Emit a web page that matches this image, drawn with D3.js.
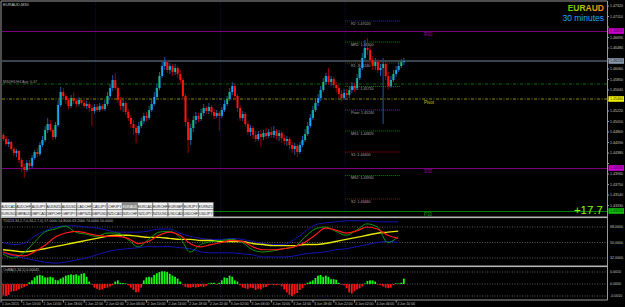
<!DOCTYPE html>
<html>
<head>
<meta charset="utf-8">
<script src="https://cdn.jsdelivr.net/npm/d3@7"></script>
<style>
body { margin: 0; background: #000; overflow: hidden; }
svg { display: block; }
text { font-family: "Liberation Sans", Arial, sans-serif; }
</style>
</head>
<body>
<div id="chart"></div>
<script>
var width = 625;
var height = 307;

// EURAUD M30, one bar every 30 minutes from 1 Jun 06:00
var opens = [
  1.4474,1.4466,1.4456,1.4460,1.4446,1.4438,1.4442,1.4424,1.4410,1.4404,
  1.4418,1.4412,1.4428,1.4440,1.4436,1.4454,1.4464,1.4484,1.4496,1.4484,
  1.4470,1.4494,1.4534,1.4560,1.4552,1.4544,1.4532,1.4548,1.4542,1.4536,
  1.4544,1.4538,1.4532,1.4536,1.4528,1.4522,1.4530,1.4524,1.4532,1.4526,
  1.4536,1.4552,1.4568,1.4584,1.4568,1.4544,1.4532,1.4538,1.4520,1.4508,
  1.4496,1.4488,1.4478,1.4492,1.4502,1.4512,1.4508,1.4524,1.4536,1.4550,
  1.4568,1.4592,1.4612,1.4620,1.4604,1.4612,1.4600,1.4608,1.4596,1.4584,
  1.4552,1.4500,1.4464,1.4488,1.4504,1.4512,1.4506,1.4518,1.4528,1.4522,
  1.4530,1.4520,1.4512,1.4518,1.4512,1.4524,1.4536,1.4546,1.4560,1.4572,
  1.4552,1.4528,1.4508,1.4516,1.4496,1.4480,1.4488,1.4474,1.4466,1.4476,
  1.4470,1.4478,1.4472,1.4480,1.4474,1.4482,1.4472,1.4478,1.4468,1.4462,
  1.4466,1.4454,1.4446,1.4452,1.4440,1.4454,1.4464,1.4476,1.4492,1.4508,
  1.4524,1.4538,1.4548,1.4564,1.4580,1.4592,1.4580,1.4586,1.4574,1.4568,
  1.4556,1.4548,1.4558,1.4554,1.4564,1.4572,1.4568,1.4588,1.4608,1.4628,
  1.4648,1.4644,1.4624,1.4612,1.4620,1.4604,1.4608,1.4616,1.4592,1.4572,
  1.4584,1.4596,1.4604,1.4612,1.4620
];
var highs = [
  1.4478,1.4472,1.4466,1.4462,1.4450,1.4446,1.4444,1.4428,1.4416,1.4424,
  1.4424,1.4434,1.4444,1.4448,1.4460,1.4472,1.4492,1.4508,1.4504,1.4488,
  1.4500,1.4544,1.4570,1.4568,1.4556,1.4548,1.4554,1.4560,1.4546,1.4550,
  1.4548,1.4544,1.4542,1.4540,1.4534,1.4536,1.4536,1.4538,1.4536,1.4544,
  1.4560,1.4576,1.4594,1.4598,1.4572,1.4550,1.4544,1.4542,1.4526,1.4514,
  1.4504,1.4494,1.4500,1.4508,1.4518,1.4520,1.4532,1.4546,1.4560,1.4576,
  1.4600,1.4620,1.4630,1.4624,1.4618,1.4616,1.4616,1.4612,1.4604,1.4588,
  1.4556,1.4508,1.4496,1.4512,1.4520,1.4518,1.4526,1.4536,1.4532,1.4538,
  1.4534,1.4526,1.4524,1.4522,1.4530,1.4544,1.4552,1.4568,1.4580,1.4576,
  1.4556,1.4534,1.4522,1.4520,1.4502,1.4494,1.4492,1.4482,1.4482,1.4484,
  1.4484,1.4488,1.4486,1.4490,1.4492,1.4486,1.4484,1.4482,1.4474,1.4472,
  1.4470,1.4460,1.4458,1.4456,1.4460,1.4472,1.4486,1.4500,1.4516,1.4532,
  1.4548,1.4556,1.4572,1.4588,1.4598,1.4608,1.4592,1.4590,1.4580,1.4574,
  1.4564,1.4566,1.4566,1.4570,1.4580,1.4578,1.4596,1.4616,1.4638,1.4664,
  1.4668,1.4652,1.4632,1.4628,1.4626,1.4616,1.4628,1.4620,1.4600,1.4592,
  1.4604,1.4612,1.4620,1.4626,1.4628
];
var lows = [
  1.4462,1.4452,1.4450,1.4442,1.4432,1.4430,1.4418,1.4400,1.4388,1.4400,
  1.4404,1.4408,1.4424,1.4430,1.4432,1.4450,1.4460,1.4478,1.4480,1.4464,
  1.4466,1.4490,1.4530,1.4546,1.4536,1.4526,1.4528,1.4536,1.4530,1.4532,
  1.4534,1.4528,1.4526,1.4520,1.4492,1.4516,1.4520,1.4520,1.4522,1.4522,
  1.4532,1.4548,1.4562,1.4564,1.4538,1.4524,1.4520,1.4514,1.4502,1.4488,
  1.4474,1.4458,1.4474,1.4488,1.4496,1.4502,1.4504,1.4520,1.4532,1.4546,
  1.4564,1.4588,1.4604,1.4598,1.4596,1.4592,1.4594,1.4588,1.4576,1.4544,
  1.4492,1.4438,1.4454,1.4480,1.4496,1.4500,1.4502,1.4512,1.4516,1.4516,
  1.4514,1.4506,1.4508,1.4482,1.4508,1.4520,1.4532,1.4542,1.4554,1.4546,
  1.4520,1.4502,1.4502,1.4490,1.4474,1.4472,1.4466,1.4460,1.4462,1.4450,
  1.4464,1.4466,1.4468,1.4468,1.4468,1.4464,1.4462,1.4458,1.4454,1.4452,
  1.4446,1.4438,1.4434,1.4430,1.4436,1.4450,1.4460,1.4472,1.4488,1.4504,
  1.4520,1.4532,1.4542,1.4560,1.4574,1.4574,1.4572,1.4568,1.4560,1.4548,
  1.4542,1.4544,1.4548,1.4548,1.4558,1.4560,1.4564,1.4584,1.4604,1.4624,
  1.4634,1.4618,1.4604,1.4604,1.4598,1.4592,1.4496,1.4584,1.4564,1.4568,
  1.4580,1.4590,1.4600,1.4608,1.4614
];
var closes = [
  1.4466,1.4456,1.4460,1.4446,1.4438,1.4442,1.4424,1.4410,1.4404,1.4418,
  1.4412,1.4428,1.4440,1.4436,1.4454,1.4464,1.4484,1.4496,1.4484,1.4470,
  1.4494,1.4534,1.4560,1.4552,1.4544,1.4532,1.4548,1.4542,1.4536,1.4544,
  1.4538,1.4532,1.4536,1.4528,1.4522,1.4530,1.4524,1.4532,1.4526,1.4536,
  1.4552,1.4568,1.4584,1.4568,1.4544,1.4532,1.4538,1.4520,1.4508,1.4496,
  1.4488,1.4478,1.4492,1.4502,1.4512,1.4508,1.4524,1.4536,1.4550,1.4568,
  1.4592,1.4612,1.4620,1.4604,1.4612,1.4600,1.4608,1.4596,1.4584,1.4552,
  1.4500,1.4464,1.4488,1.4504,1.4512,1.4506,1.4518,1.4528,1.4522,1.4530,
  1.4520,1.4512,1.4518,1.4512,1.4524,1.4536,1.4546,1.4560,1.4572,1.4552,
  1.4528,1.4508,1.4516,1.4496,1.4480,1.4488,1.4474,1.4466,1.4476,1.4470,
  1.4478,1.4472,1.4480,1.4474,1.4482,1.4472,1.4478,1.4468,1.4462,1.4466,
  1.4454,1.4446,1.4452,1.4440,1.4454,1.4464,1.4476,1.4492,1.4508,1.4524,
  1.4538,1.4548,1.4564,1.4580,1.4592,1.4580,1.4586,1.4574,1.4568,1.4556,
  1.4548,1.4558,1.4554,1.4564,1.4572,1.4568,1.4588,1.4608,1.4628,1.4648,
  1.4644,1.4624,1.4612,1.4620,1.4604,1.4608,1.4616,1.4592,1.4572,1.4584,
  1.4596,1.4604,1.4612,1.4620,1.4622
];

// oscillator histogram, one value per bar
var oscValues = [
  -0.00095,-0.0010,-0.0009,-0.00065,-0.0006,-0.00055,-0.00045,-0.00035,-0.00025,-0.00015,
  0.00015,0.0003,0.00055,0.0007,0.00075,0.0007,0.00055,0.00055,0.0006,0.00055,
  0.00035,0.0003,0.00045,0.00055,0.0007,0.00075,0.0008,0.00075,0.0008,0.0007,
  0.00085,0.0009,0.0006,0.0002,-0.00005,-0.0003,-0.0004,-0.0005,-0.00045,-0.00035,
  -0.0003,-0.0002,-0.0001,0.0002,0.0003,0.0001,0.00008,0.00005,-0.0001,-0.0003,
  -0.0005,-0.0007,-0.00065,-0.0003,0.0003,0.00055,0.0006,0.00055,0.00075,0.0009,
  0.0010,0.00105,0.00105,0.0010,0.00085,0.0007,0.0006,0.00045,0.0002,-0.00005,
  -0.00025,-0.0003,-0.0003,-0.00025,-0.0003,-0.00025,-0.0002,-0.00025,-0.00015,0.00005,
  0.0001,0.0001,-0.00005,0.0001,0.0003,0.00055,0.0005,0.0007,0.0006,0.0003,
  0.0002,-0.0001,-0.0003,-0.00035,-0.0004,-0.0003,-0.00035,-0.0005,-0.0004,-0.00045,
  -0.0003,-0.00025,-0.0001,-0.00005,-0.0001,-0.0001,-0.00005,-0.0002,-0.00045,-0.0007,
  -0.0009,-0.0010,-0.00085,-0.00075,-0.0005,-0.00035,-0.0001,0.0001,0.0002,0.0003,
  0.0005,0.0007,0.00075,0.0006,0.0007,0.0006,0.0004,0.0004,0.00035,0.0001,
  -0.00005,-0.0001,-0.00035,-0.0007,-0.0008,-0.0006,-0.00045,-0.00035,-0.0002,0.00005,
  0.00025,0.0003,0.0003,0.0002,-0.00005,-0.0001,-0.0002,-0.0003,-0.00035,-0.0003,
  -0.0001,0.00005,0.00005,0.0001,0.00045
];

// TDI lines, one value every 4 bars
var tdiStep = 4;
var tdiRsi = [36.8,32,38,50,62,65.6,69,62,59.6,57,61,61,53.6,45,53.6,62,63,56,39,47.6,51,52.4,53.6,50,41.6,39,40.4,42.8,45,56,65.6,68,63,58.4,64.4,71.6,68,50,57];
var tdiSignal = [39,35.6,34.4,39,46.4,56,61,63,61,58.4,57,57,54.8,48.8,51.4,58.4,62,58.4,48.8,45,47.6,50,52.4,51.4,45,41.6,41.6,42.8,45,50,58.4,66.8,64.4,61,63.4,68,65.6,58.4,54.8];
var tdiBase = [41.6,40.4,39.2,40.4,42.8,45.2,47.6,50,52.4,54.8,57.2,58.4,58.4,57.2,56,56,54.8,53.6,53.6,52.4,52.4,51.2,51.2,51.2,48.8,47.6,46.4,46.4,46.4,47.6,47.6,48.8,51.2,53.6,56,58.4,60.8,62,63.2];
var tdiUpper = [50,47.6,48.8,57.2,63.2,68,69.2,69.2,68,66.8,64.4,62,62,62,63.2,65.6,65.6,60.8,57.2,54.8,53.6,53.6,54.8,53.6,51.2,48.8,47.6,47.6,53.6,62,70.4,72.8,74,75.2,75.2,75.2,74,74,74];
var tdiLower = [38,34.4,32,29.6,27.2,26,27.2,29.6,32,35.6,39.2,41.6,42.8,44,45.2,45.2,45.2,44,42.8,39.2,38,38,38,36.8,35.6,33.2,33.2,33.2,34.4,36.8,38,39.2,41.6,42.8,45.2,47.6,50,51.2,50];
var tdiLevels = [68, 50, 32];

// today's pivots (4 Jun), drawn from the 4 Jun 00:00 bar
var pivotNames = ["R2", "MR2", "R1", "MR1", "Pivot", "MS1", "S1", "MS2", "S2"];
var pivotValues = [1.4702, 1.4660, 1.4618, 1.4571, 1.4524, 1.4482, 1.4440, 1.4393, 1.4346];
var pivotStartBar = 132;

// long horizontal levels
var levelNames = ["R30", "S30", "P30"];
var levelPrices = [1.4682, 1.4408, 1.4322];
var bidPrice = 1.4622;
var avgPrice = 1.4576;
var avgText = "M30/H1/H4 Avg: 0.47";
var weekPivotPrice = 1.4546;
var profitText = "+17.7";

var priceTicks = [1.4732,1.4711,1.4690,1.4669,1.4648,1.4627,1.4606,1.4585,1.4564,1.4543,
  1.4522,1.4501,1.4480,1.4459,1.4438,1.4417,1.4396,1.4375,1.4354,1.4333];
var oscTicks = [0.0010, 0.0000, -0.0010];

var daySeparators = [36, 84, 132];
var timeLabels = ["1 Jun 2015","1 Jun 10:00","1 Jun 14:00","1 Jun 18:00","1 Jun 22:00",
  "2 Jun 02:00","2 Jun 06:00","2 Jun 10:00","2 Jun 14:00","2 Jun 18:00","2 Jun 22:00",
  "3 Jun 02:00","3 Jun 06:00","3 Jun 10:00","3 Jun 14:00","3 Jun 18:00","3 Jun 22:00",
  "4 Jun 02:00","4 Jun 06:00","4 Jun 10:00"];
var timeLabelStep = 8;

var buttonRow1 = ["AUDCAD","AUDCHF","AUDJPY","AUDNZD","AUDUSD","CADCHF","CADJPY","CHFJPY","EURAUD","EURCAD","EURCHF","EURGBP","EURJPY","EURNZD"];
var buttonRow2 = ["EURUSD","GBPAUD","GBPCAD","GBPCHF","GBPJPY","GBPNZD","GBPUSD","NZDCAD","NZDCHF","NZDJPY","NZDUSD","USDCAD","USDCHF","USDJPY"];
var activeSymbol = "EURAUD";

var svg = d3.select('#chart').append('svg')
  .attr('width', width).attr('height', height);

svg.append('rect').attr('width', width).attr('height', height).attr('fill', '#000');

var axisX = 607.5;
var x = d3.scaleLinear().domain([0, 154]).range([3, 403.4]);
var y = d3.scaleLinear().domain([1.4310, 1.4740]).range([217, 2]);
var yTdi = d3.scaleLinear().domain([32, 68]).range([258, 227]);
var yOsc = d3.scaleLinear().domain([-0.001, 0.001]).range([296, 272]);

// day separators
daySeparators.forEach(function(b) {
  svg.append('line')
    .attr('x1', x(b) - 1).attr('x2', x(b) - 1)
    .attr('y1', 2).attr('y2', 300)
    .attr('stroke', '#111140').attr('stroke-width', 1)
    .attr('stroke-dasharray', '1,1');
});

// long levels
var levelColors = ["#800080", "#800080", "#008000"];
levelPrices.forEach(function(p, i) {
  svg.append('line')
    .attr('x1', 2).attr('x2', axisX)
    .attr('y1', Math.round(y(p)) + 0.5).attr('y2', Math.round(y(p)) + 0.5)
    .attr('stroke', levelColors[i]).attr('stroke-width', 1);
  svg.append('text')
    .attr('x', 424).attr('y', y(p) + 4.5)
    .attr('font-size', 4.5).attr('fill', i < 2 ? '#a000a0' : '#00a000')
    .text(levelNames[i]);
});

svg.append('line')
  .attr('x1', 2).attr('x2', axisX)
  .attr('y1', y(avgPrice)).attr('y2', y(avgPrice))
  .attr('stroke', '#0a6a0a').attr('stroke-dasharray', '3,1.5,1,1.5');
svg.append('text')
  .attr('x', 3).attr('y', y(avgPrice) - 1)
  .attr('font-size', 3.6).attr('fill', '#9a9a9a')
  .text(avgText);

svg.append('line')
  .attr('x1', 2).attr('x2', axisX)
  .attr('y1', y(weekPivotPrice)).attr('y2', y(weekPivotPrice))
  .attr('stroke', '#8c8c00').attr('stroke-dasharray', '3,1.5,1,1.5');
svg.append('text')
  .attr('x', 424).attr('y', y(weekPivotPrice) + 4.5)
  .attr('font-size', 4.5).attr('fill', '#c8c800')
  .text('Pivot');

svg.append('line')
  .attr('x1', 2).attr('x2', axisX)
  .attr('y1', y(bidPrice)).attr('y2', y(bidPrice))
  .attr('stroke', '#778899').attr('stroke-width', 1);

// today's pivot lines
var pivotColors = {R2: '#2a2ab0', R1: '#b00000', S1: '#b00000', S2: '#b00000', Pivot: '#c000c0'};
pivotValues.forEach(function(p, i) {
  var name = pivotNames[i];
  svg.append('line')
    .attr('x1', x(pivotStartBar) - 1).attr('x2', 400)
    .attr('y1', y(p)).attr('y2', y(p))
    .attr('stroke', pivotColors[name] || '#0a7a0a')
    .attr('stroke-dasharray', '1,1');
  svg.append('text')
    .attr('x', 351).attr('y', y(p) + 3.8)
    .attr('font-size', 3.6).attr('fill', '#a8a8a8')
    .text(name + ': ' + p.toFixed(5));
});

// candles
var bars = svg.append('g');
closes.forEach(function(c, i) {
  var o = opens[i];
  var up = c >= o;
  var cx = x(i);
  bars.append('line')
    .attr('x1', cx + 0.5).attr('x2', cx + 0.5)
    .attr('y1', y(highs[i])).attr('y2', y(lows[i]))
    .attr('stroke', up ? '#1f56a8' : '#9a0000').attr('stroke-width', 1);
  var top = y(Math.max(o, c));
  var h = Math.max(1, Math.abs(y(o) - y(c)));
  bars.append('rect')
    .attr('x', cx - 0.5).attr('y', top)
    .attr('width', 2).attr('height', h)
    .attr('fill', up ? '#1ea6ff' : '#ff1414');
  if (up) {
    bars.append('line')
      .attr('x1', cx - 0.3).attr('x2', cx - 0.3)
      .attr('y1', top).attr('y2', top + h)
      .attr('stroke', '#0c9a20').attr('stroke-width', 0.7);
  }
});

// symbol buttons
function drawButtons(names, y0) {
  var bw = 15.2;
  names.forEach(function(n, i) {
    var active = n === activeSymbol;
    svg.append('rect')
      .attr('x', 1 + i * bw).attr('y', y0)
      .attr('width', bw - 0.6).attr('height', 7)
      .attr('fill', active ? '#8c8c8c' : '#f2f2f2')
      .attr('stroke', '#a0a0a0').attr('stroke-width', 0.5);
    svg.append('text')
      .attr('x', 1 + i * bw + (bw - 0.6) / 2).attr('y', y0 + 5)
      .attr('text-anchor', 'middle')
      .attr('font-size', 3.5).attr('fill', active ? '#ffffff' : '#202020')
      .text(n);
  });
}
drawButtons(buttonRow1, 202.5);
drawButtons(buttonRow2, 210);

// titles
svg.append('text').attr('x', 3).attr('y', 6)
  .attr('font-size', 4).attr('fill', '#c8c8c8').text('EURAUD,M30');

var titleColors = ['#6ccc00', '#88cc00', '#a8c800', '#d8b000', '#f09a00', '#ff8c00'];
var title = svg.append('text').attr('x', 604).attr('y', 10.5)
  .attr('text-anchor', 'end').attr('font-size', 8.5).attr('font-weight', 'bold');
'EURAUD'.split('').forEach(function(ch, i) {
  title.append('tspan').attr('fill', titleColors[i]).text(ch);
});
svg.append('text').attr('x', 604).attr('y', 20.5)
  .attr('text-anchor', 'end').attr('font-size', 8.5).attr('fill', '#1ea8ff')
  .text('30 minutes');

svg.append('text').attr('x', 603).attr('y', 214)
  .attr('text-anchor', 'end').attr('font-size', 11.5).attr('fill', '#7cfc00')
  .text(profitText);

// TDI panel
tdiLevels.forEach(function(v) {
  svg.append('line')
    .attr('x1', 2).attr('x2', axisX)
    .attr('y1', yTdi(v)).attr('y2', yTdi(v))
    .attr('stroke', '#5a5a5a').attr('stroke-dasharray', '1,1.5');
});
function tdiLine(vals, color, w) {
  var line = d3.line()
    .x(function(d, i) { return x(i * tdiStep); })
    .y(function(d) { return yTdi(d); })
    .curve(d3.curveMonotoneX);
  svg.append('path').attr('d', line(vals))
    .attr('fill', 'none').attr('stroke', color).attr('stroke-width', w);
}
tdiLine(tdiUpper, '#1414b4', 1);
tdiLine(tdiLower, '#1414b4', 1);
tdiLine(tdiBase, '#e6e600', 1.4);
tdiLine(tdiRsi, '#0a9a0a', 1);
tdiLine(tdiSignal, '#ff1a1a', 1.2);
svg.append('text').attr('x', 3).attr('y', 222)
  .attr('font-size', 3.6).attr('fill', '#b8b8b8')
  .text('TDI(13,34,2,7,0,34,2,7,0) 57.0000 54.8000 63.2000 74.0000 50.0000');

// oscillator panel
oscTicks.forEach(function(v) {
  svg.append('line')
    .attr('x1', 2).attr('x2', axisX)
    .attr('y1', yOsc(v)).attr('y2', yOsc(v))
    .attr('stroke', '#5a5a5a').attr('stroke-dasharray', '1,1.5');
});
oscValues.forEach(function(v, i) {
  svg.append('rect')
    .attr('x', x(i) - 0.5).attr('width', 1.8)
    .attr('y', Math.min(yOsc(v), yOsc(0)))
    .attr('height', Math.max(0.6, Math.abs(yOsc(v) - yOsc(0))))
    .attr('fill', v >= 0 ? '#14ff14' : '#ff1414');
});
svg.append('text').attr('x', 3).attr('y', 271)
  .attr('font-size', 3.6).attr('fill', '#b8b8b8')
  .text('OsMA(5,34,5) 0.00045');

// frame and panel separators
svg.append('line').attr('x1', 1).attr('x2', axisX).attr('y1', 1).attr('y2', 1)
  .attr('stroke', '#9a9a9a');
svg.append('line').attr('x1', 1).attr('x2', 1).attr('y1', 1).attr('y2', 300)
  .attr('stroke', '#9a9a9a');
svg.append('line').attr('x1', axisX).attr('x2', axisX).attr('y1', 1).attr('y2', 300)
  .attr('stroke', '#9a9a9a');
[217.5, 266.5].forEach(function(sy) {
  svg.append('rect').attr('x', 1).attr('y', sy - 1).attr('width', axisX - 1).attr('height', 1.6)
    .attr('fill', '#b4b4b4');
});
svg.append('line').attr('x1', 1).attr('x2', axisX).attr('y1', 300).attr('y2', 300)
  .attr('stroke', '#9a9a9a');

// price axis; a tick label is skipped where a level box sits on it
var boxPrices = [levelPrices[0], bidPrice, weekPivotPrice, levelPrices[1], levelPrices[2]];
priceTicks.forEach(function(p) {
  svg.append('line').attr('x1', axisX).attr('x2', axisX + 1.5)
    .attr('y1', y(p)).attr('y2', y(p)).attr('stroke', '#9a9a9a');
  var hidden = boxPrices.some(function(b) { return Math.abs(y(b) - y(p)) < 5.5; });
  if (!hidden) {
    svg.append('text').attr('x', 610).attr('y', y(p) + 1.4)
      .attr('font-size', 3.6).attr('fill', '#c0c0c0').text(p.toFixed(5));
  }
});
function priceBox(p, fill, txt) {
  svg.append('rect').attr('x', 608.5).attr('y', y(p) - 2.8)
    .attr('width', 15.5).attr('height', 5.6).attr('fill', fill);
  svg.append('text').attr('x', 610).attr('y', y(p) + 1.4)
    .attr('font-size', 3.6).attr('fill', txt).text(p.toFixed(5));
}
priceBox(levelPrices[0], '#d000d0', '#300030');
priceBox(bidPrice, '#8a9aac', '#202020');
priceBox(weekPivotPrice, '#f0f000', '#303000');
priceBox(levelPrices[1], '#d000d0', '#300030');
priceBox(levelPrices[2], '#10c010', '#002000');

tdiLevels.forEach(function(v) {
  svg.append('text').attr('x', 610).attr('y', yTdi(v) + 1.4)
    .attr('font-size', 3.6).attr('fill', '#c0c0c0').text(v.toFixed(4));
});
oscTicks.forEach(function(v) {
  svg.append('text').attr('x', 610).attr('y', yOsc(v) + 1.4)
    .attr('font-size', 3.6).attr('fill', '#c0c0c0').text(v.toFixed(4));
});

// time axis
timeLabels.forEach(function(t, i) {
  var tx = x(i * timeLabelStep) - 2;
  svg.append('line').attr('x1', tx).attr('x2', tx).attr('y1', 300).attr('y2', 302.5)
    .attr('stroke', '#9a9a9a');
  svg.append('text').attr('x', tx + 1).attr('y', 305)
    .attr('font-size', 3.4).attr('fill', '#c0c0c0').text(t);
});
</script>
</body>
</html>
